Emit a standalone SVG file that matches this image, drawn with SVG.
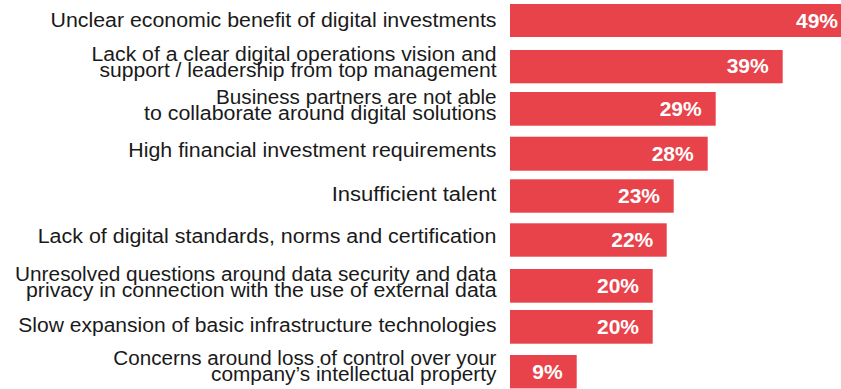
<svg xmlns="http://www.w3.org/2000/svg" width="841" height="389" viewBox="0 0 841 389">
<style>
.lbl{font-family:"Liberation Sans",Arial,sans-serif;font-size:19.5px;fill:#1a1a1a;text-anchor:end}
.bar{fill:#E8424B}
.pct{font-family:"Liberation Sans",Arial,sans-serif;font-size:21px;font-weight:bold;fill:#ffffff;text-anchor:end}
</style>
<rect width="841" height="389" fill="#ffffff"/>
<g id="row1">
<text class="lbl" x="496.5" y="26.7" textLength="446" lengthAdjust="spacingAndGlyphs">Unclear economic benefit of digital investments</text>
<rect class="bar" x="510" y="4" width="331" height="33"/>
<text class="pct" x="838" y="28.3">49%</text>
</g>
<g id="row2">
<text class="lbl" x="496.5" y="60.7" textLength="405" lengthAdjust="spacingAndGlyphs">Lack of a clear digital operations vision and</text>
<text class="lbl" x="496.5" y="77" textLength="397" lengthAdjust="spacingAndGlyphs">support / leadership from top management</text>
<rect class="bar" x="510" y="50" width="272.7" height="33.3"/>
<text class="pct" x="768.7" y="73.3">39%</text>
</g>
<g id="row3">
<text class="lbl" x="496.5" y="104" textLength="280.5" lengthAdjust="spacingAndGlyphs">Business partners are not able</text>
<text class="lbl" x="496.5" y="119.5" textLength="352.5" lengthAdjust="spacingAndGlyphs">to collaborate around digital solutions</text>
<rect class="bar" x="510" y="92" width="205.7" height="33.7"/>
<text class="pct" x="701.7" y="115.9">29%</text>
</g>
<g id="row4">
<text class="lbl" x="496.5" y="156.7" textLength="368.2" lengthAdjust="spacingAndGlyphs">High financial investment requirements</text>
<rect class="bar" x="510" y="136.7" width="197.7" height="34"/>
<text class="pct" x="693.7" y="160.9">28%</text>
</g>
<g id="row5">
<text class="lbl" x="496.5" y="201" textLength="164.8" lengthAdjust="spacingAndGlyphs">Insufficient talent</text>
<rect class="bar" x="510" y="179.3" width="163.7" height="33.4"/>
<text class="pct" x="660" y="203.2">23%</text>
</g>
<g id="row6">
<text class="lbl" x="496.5" y="243.3" textLength="458.8" lengthAdjust="spacingAndGlyphs">Lack of digital standards, norms and certification</text>
<rect class="bar" x="510" y="223.3" width="156.7" height="33.4"/>
<text class="pct" x="653.3" y="247.2">22%</text>
</g>
<g id="row7">
<text class="lbl" x="496.5" y="280.7" textLength="481.5" lengthAdjust="spacingAndGlyphs">Unresolved questions around data security and data</text>
<text class="lbl" x="496.5" y="296.5" textLength="470.5" lengthAdjust="spacingAndGlyphs">privacy in connection with the use of external data</text>
<rect class="bar" x="510" y="269" width="142.7" height="33.7"/>
<text class="pct" x="639" y="293">20%</text>
</g>
<g id="row8">
<text class="lbl" x="496.5" y="331.7" textLength="478.2" lengthAdjust="spacingAndGlyphs">Slow expansion of basic infrastructure technologies</text>
<rect class="bar" x="510" y="310" width="142.7" height="33.7"/>
<text class="pct" x="639" y="334">20%</text>
</g>
<g id="row9">
<text class="lbl" x="496.5" y="365" textLength="383.2" lengthAdjust="spacingAndGlyphs">Concerns around loss of control over your</text>
<text class="lbl" x="496.5" y="381" textLength="285.5" lengthAdjust="spacingAndGlyphs">company’s intellectual property</text>
<rect class="bar" x="510" y="355" width="66.7" height="33.4"/>
<text class="pct" x="562.7" y="379">9%</text>
</g>
</svg>
